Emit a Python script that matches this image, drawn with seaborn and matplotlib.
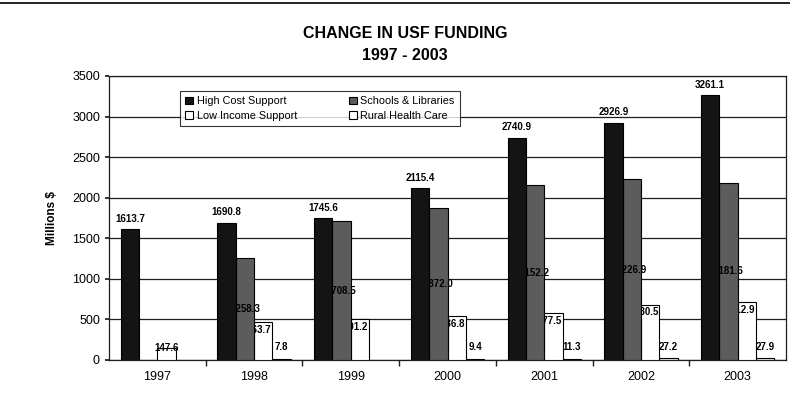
import numpy as np
import pandas as pd
import seaborn as sns
import matplotlib.pyplot as plt
from matplotlib.patches import Patch
from matplotlib.lines import Line2D

# chart data (millions of dollars)
years = ['1997', '1998', '1999', '2000', '2001', '2002', '2003']
programs = ['High Cost Support', 'Schools & Libraries', 'Low Income Support', 'Rural Health Care']
high_cost = [1613.7, 1690.8, 1745.6, 2115.4, 2740.9, 2926.9, 3261.1]
schools = [np.nan, 1258.3, 1708.5, 1872.0, 2152.2, 2226.9, 2181.6]
low_income = [147.6, 463.7, 501.2, 536.8, 577.5, 680.5, 712.9]
rural_health = [np.nan, 7.8, np.nan, 9.4, 11.3, 27.2, 27.9]

colors = ['#141414', '#5c5c5c', 'white', 'white']

df = pd.DataFrame({
    'year': years * 4,
    'program': [p for p in programs for _ in years],
    'value': high_cost + schools + low_income + rural_health,
}).dropna()

sns.set_theme(style='white')
plt.rcParams['font.family'] = ['Liberation Sans', 'DejaVu Sans']
plt.rcParams['text.color'] = 'black'
plt.rcParams['axes.labelcolor'] = 'black'
plt.rcParams['xtick.color'] = 'black'
plt.rcParams['ytick.color'] = 'black'

fig, ax = plt.subplots(figsize=(7.9, 4), dpi=100)
fig.subplots_adjust(left=0.138, right=0.995, bottom=0.10, top=0.81)

sns.barplot(data=df, x='year', y='value', hue='program', order=years,
            hue_order=programs, palette=colors, width=0.76, gap=0,
            edgecolor='black', linewidth=0.8, errorbar=None,
            legend=False, ax=ax)

# stacking order so labels peek out the way they do in the print
bar_z = [5, 4, 3, 2]
for cont, z in zip(ax.containers, bar_z):
    for bar in cont:
        bar.set_zorder(z)

lab = dict(fontsize=7, fontweight='bold', color='black')
for i, cont in enumerate(ax.containers):
    for bar in cont:
        h = bar.get_height()
        x0, w = bar.get_x(), bar.get_width()
        txt = f'{h:.1f}'
        if i == 0:
            ax.annotate(txt, (x0 + w / 2, h), xytext=(0, 4), textcoords='offset points',
                        ha='center', va='bottom', zorder=5.5, **lab)
        elif i == 1:
            ax.text(x0 + w / 2, h / 2, txt, ha='center', va='center', zorder=4.5, **lab)
        elif i == 2:
            if h < 300:
                ax.text(x0 + w / 2, h, txt, ha='center', va='center', zorder=3.5, **lab)
            else:
                ax.text(x0 + w * 0.3, h - 95, txt, ha='center', va='center', zorder=3.5, **lab)
        else:
            ax.text(x0 + w / 2, 160, txt, ha='center', va='center', zorder=2.5, **lab)

ax.set_ylim(0, 3500)
ax.set_yticks(range(0, 3501, 500))
ax.yaxis.grid(True, color='#1e1e1e', linewidth=0.9)
ax.set_axisbelow(True)
for s in ax.spines.values():
    s.set_color('#1e1e1e')
    s.set_linewidth(0.9)

ax.set_xticks([i + 0.5 for i in range(6)], minor=True)
ax.tick_params(axis='x', which='major', length=0, labelsize=9, pad=8)
ax.tick_params(axis='x', which='minor', length=4, direction='out', color='#1e1e1e', bottom=True)
ax.tick_params(axis='y', length=3, direction='out', labelsize=9, color='#1e1e1e', left=True)
ax.set_xlabel('')
ax.set_ylabel('Millions $', fontsize=8.5, fontweight='bold', labelpad=10)

handles = [Patch(facecolor=colors[k], edgecolor='black', linewidth=0.8) for k in range(4)]
order = [0, 2, 1, 3]
leg = fig.legend([handles[k] for k in order], [programs[k] for k in order],
                 ncol=2, loc='upper left', bbox_to_anchor=(175 / 790, 1 - 86 / 400),
                 fontsize=7.8, frameon=True, fancybox=False, edgecolor='black',
                 handlelength=0.75, handleheight=0.75, handletextpad=0.3,
                 columnspacing=4.8, borderpad=0.45, labelspacing=0.45)
leg.get_frame().set_linewidth(0.8)

fig.text(405 / 790, 1 - 33 / 400, 'CHANGE IN USF FUNDING', ha='center', va='center',
         fontsize=11.5, fontweight='bold')
fig.text(405 / 790, 1 - 55 / 400, '1997 - 2003', ha='center', va='center',
         fontsize=11.5, fontweight='bold')
fig.add_artist(Line2D([0, 1], [0.992, 0.992], color='black', linewidth=1.2,
                      transform=fig.transFigure))

fig.savefig('out.png', dpi=100)
